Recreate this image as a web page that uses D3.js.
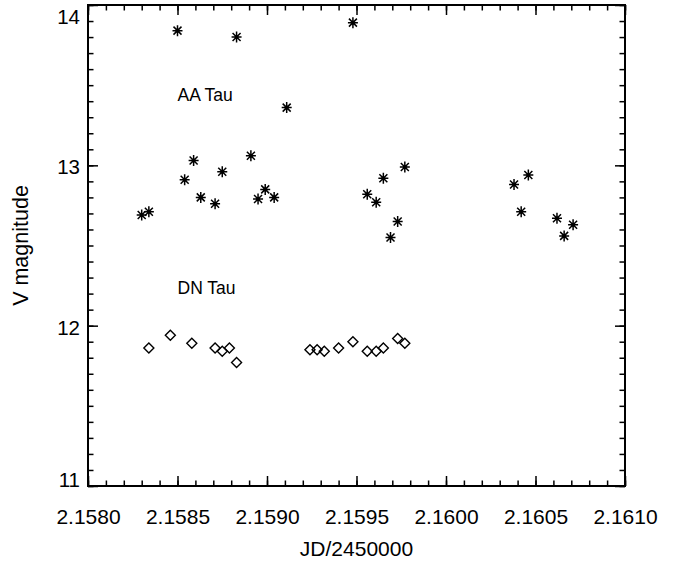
<!DOCTYPE html>
<html>
<head>
<meta charset="utf-8">
<script src="https://cdn.jsdelivr.net/npm/d3@7"></script>
<style>
  body { margin: 0; background: #fff; }
  text { font-family: "Liberation Sans", Arial, Helvetica, sans-serif; fill: #000; }
</style>
</head>
<body>
<div id="chart"></div>
<script>
// AA Tau (asterisks)
var aaJD = [2.15830, 2.15834, 2.15850, 2.15854, 2.15859, 2.15863, 2.15871, 2.15875, 2.15883,
            2.15891, 2.15895, 2.15899, 2.15904, 2.15911, 2.15948, 2.15956, 2.15961, 2.15965,
            2.15969, 2.15973, 2.15977, 2.16038, 2.16042, 2.16046, 2.16062, 2.16066, 2.16071];
var aaMag = [12.69, 12.71, 13.84, 12.91, 13.03, 12.80, 12.76, 12.96, 13.80,
             13.06, 12.79, 12.85, 12.80, 13.36, 13.89, 12.82, 12.77, 12.92,
             12.55, 12.65, 12.99, 12.88, 12.71, 12.94, 12.67, 12.56, 12.63];

// DN Tau (diamonds)
var dnJD = [2.15834, 2.15846, 2.15858, 2.15871, 2.15875, 2.15879, 2.15883, 2.15924, 2.15928,
            2.15932, 2.15940, 2.15948, 2.15956, 2.15961, 2.15965, 2.15973, 2.15977];
var dnMag = [11.86, 11.94, 11.89, 11.86, 11.84, 11.86, 11.77, 11.85, 11.85,
             11.84, 11.86, 11.90, 11.84, 11.84, 11.86, 11.92, 11.89];

var xTicks = [2.1580, 2.1585, 2.1590, 2.1595, 2.1600, 2.1605, 2.1610];
var yTicks = [11, 12, 13, 14];
var starLabels = [{name: "AA Tau", jd: 2.1585, mag: 13.4}, {name: "DN Tau", jd: 2.1585, mag: 12.2}];

var width = 683, height = 563,
    margin = {top: 5, right: 58, bottom: 77, left: 88};
var w = width - margin.left - margin.right,
    h = height - margin.top - margin.bottom;

var svg = d3.select("#chart")
    .append("svg")
    .attr("width", width)
    .attr("height", height)
    .append("g")
    .attr("transform", "translate(" + margin.left + "," + margin.top + ")");

var x = d3.scaleLinear().domain([2.1580, 2.1610]).range([0, w]);
var y = d3.scaleLinear().domain([11, 14]).range([h, 0]);

var xMinor = d3.range(0, 31).map(function(i) { return 2.1580 + i * 0.0001; });
var yMinor = d3.range(0, 31).map(function(i) { return 11 + i * 0.1; });

// minor ticks on all four sides
function minor(axis, vals, tr) {
    svg.append("g")
        .attr("class", "minor")
        .attr("transform", tr)
        .call(axis.tickValues(vals).tickSizeInner(-5.5).tickSizeOuter(0).tickFormat(""));
}
minor(d3.axisBottom(x), xMinor, "translate(0," + h + ")");
minor(d3.axisTop(x), xMinor, "translate(0,0)");
minor(d3.axisLeft(y), yMinor, "translate(0,0)");
minor(d3.axisRight(y), yMinor, "translate(" + w + ",0)");

// major ticks + labels
var xAxis = svg.append("g")
    .attr("transform", "translate(0," + h + ")")
    .call(d3.axisBottom(x).tickValues(xTicks).tickSizeInner(-10).tickSizeOuter(0)
        .tickPadding(23).tickFormat(d3.format(".4f")));
svg.append("g")
    .call(d3.axisTop(x).tickValues(xTicks).tickSizeInner(-10).tickSizeOuter(0).tickFormat(""));

var yAxis = svg.append("g")
    .call(d3.axisLeft(y).tickValues(yTicks).tickSizeInner(-10).tickSizeOuter(0)
        .tickPadding(8).tickFormat(d3.format("d")));
svg.append("g")
    .attr("transform", "translate(" + w + ",0)")
    .call(d3.axisRight(y).tickValues(yTicks).tickSizeInner(-10).tickSizeOuter(0).tickFormat(""));

svg.selectAll(".domain").remove();
svg.selectAll(".tick line").attr("stroke", "#000").attr("stroke-width", 1.5);

xAxis.selectAll("text").style("font-size", "21px");
yAxis.selectAll("text")
    .style("font-size", "20.5px")
    .attr("dy", function(d) {
        if (d == 14) return "0.9em";
        if (d == 11) return "0em";
        return "0.42em";
    });

// frame
svg.append("rect")
    .attr("width", w)
    .attr("height", h)
    .attr("fill", "none")
    .attr("stroke", "#000")
    .attr("stroke-width", 2);

// axis titles
svg.append("text")
    .attr("x", w / 2)
    .attr("y", h + 70)
    .attr("text-anchor", "middle")
    .style("font-size", "21px")
    .text("JD/2450000");

svg.append("text")
    .attr("transform", "translate(" + (-60) + "," + (h / 2) + ") rotate(-90)")
    .attr("text-anchor", "middle")
    .style("font-size", "21.5px")
    .text("V magnitude");

// star names
svg.selectAll(".lbl")
    .data(starLabels)
    .join("text")
    .attr("class", "lbl")
    .attr("x", function(d) { return x(d.jd); })
    .attr("y", function(d) { return y(d.mag); })
    .style("font-size", "17.5px")
    .text(function(d) { return d.name; });

// asterisks: a plus and an x
var aa = d3.range(aaJD.length).map(function(i) { return {jd: aaJD[i], mag: aaMag[i]}; });
var star = "M0,-5.5V5.5M-5,0H5M-4,-4L4,4M-4,4L4,-4";
svg.selectAll(".aa")
    .data(aa)
    .join("path")
    .attr("class", "aa")
    .attr("transform", function(d) { return "translate(" + x(d.jd) + "," + y(d.mag) + ")"; })
    .attr("d", star)
    .attr("fill", "none")
    .attr("stroke", "#000")
    .attr("stroke-width", 1.5);
svg.selectAll(".aadot")
    .data(aa)
    .join("circle")
    .attr("class", "aadot")
    .attr("cx", function(d) { return x(d.jd); })
    .attr("cy", function(d) { return y(d.mag); })
    .attr("r", 1.8)
    .attr("fill", "#000");

// diamonds
var dn = d3.range(dnJD.length).map(function(i) { return {jd: dnJD[i], mag: dnMag[i]}; });
svg.selectAll(".dn")
    .data(dn)
    .join("path")
    .attr("class", "dn")
    .attr("transform", function(d) { return "translate(" + x(d.jd) + "," + y(d.mag) + ")"; })
    .attr("d", "M0,-5L5,0L0,5L-5,0Z")
    .attr("fill", "none")
    .attr("stroke", "#000")
    .attr("stroke-width", 1.4);
</script>
</body>
</html>
